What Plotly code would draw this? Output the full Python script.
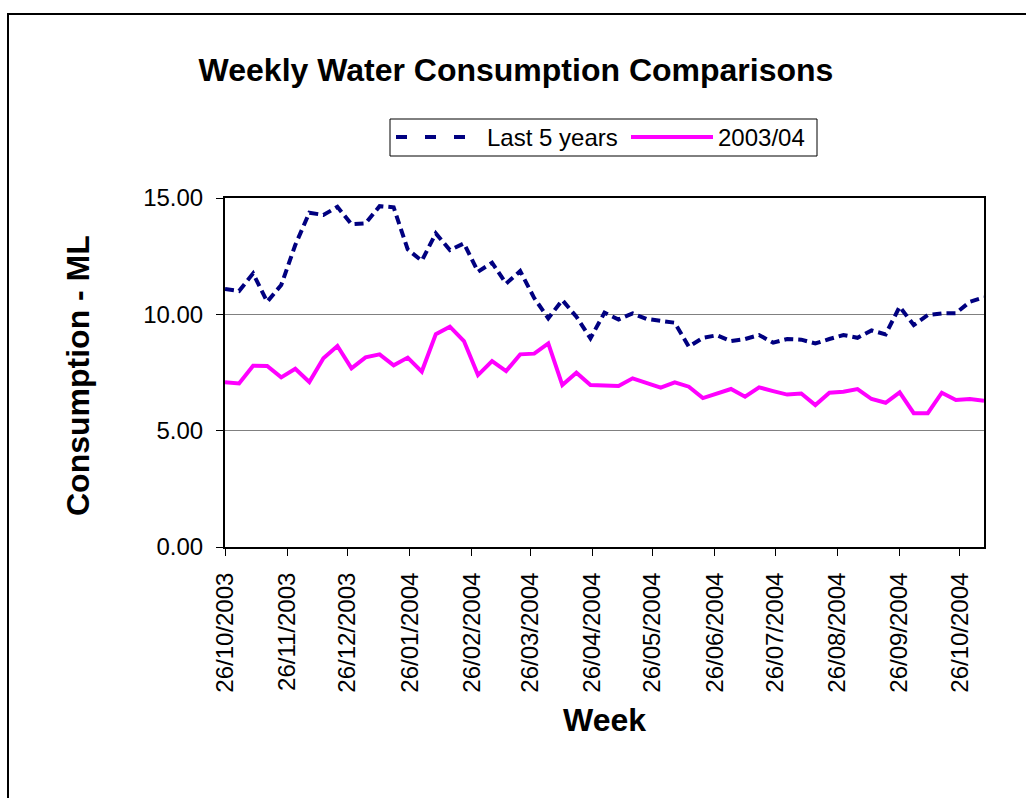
import pandas as pd
import plotly.graph_objects as go

# ---- data ----
start_date = "2003-10-26"
n_weeks = 55
weeks = pd.date_range(start_date, periods=n_weeks, freq="7D")

last5_years = [11.09, 11.00, 11.76, 10.54, 11.26, 12.98, 14.37, 14.27, 14.62, 13.87,
               13.91, 14.65, 14.60, 12.79, 12.30, 13.48, 12.76, 13.05, 11.83, 12.22,
               11.32, 11.86, 10.70, 9.83, 10.61, 9.90, 8.97, 10.07, 9.78, 10.04,
               9.80, 9.71, 9.64, 8.61, 8.99, 9.10, 8.85, 8.94, 9.11, 8.78,
               8.94, 8.91, 8.75, 8.94, 9.11, 8.99, 9.31, 9.14, 10.33, 9.54,
               9.97, 10.04, 10.05, 10.54, 10.73]

y2003_04 = [7.08, 7.03, 7.79, 7.78, 7.29, 7.66, 7.09, 8.11, 8.64, 7.68,
            8.15, 8.28, 7.81, 8.14, 7.54, 9.15, 9.47, 8.85, 7.39, 7.99,
            7.56, 8.28, 8.31, 8.75, 6.96, 7.49, 6.96, 6.96, 6.92, 7.25,
            7.03, 6.85, 7.08, 6.89, 6.40, 6.60, 6.79, 6.46, 6.86, 6.70,
            6.55, 6.60, 6.10, 6.63, 6.67, 6.79, 6.36, 6.20, 6.65, 5.75,
            5.75, 6.63, 6.32, 6.36, 6.29]

tick_dates = ["2003-10-26", "2003-11-26", "2003-12-26", "2004-01-26", "2004-02-26",
              "2004-03-26", "2004-04-26", "2004-05-26", "2004-06-26", "2004-07-26",
              "2004-08-26", "2004-09-26", "2004-10-26"]
y_ticks = [0, 5, 10, 15]

series_names = ["Last 5 years", "2003/04"]
NAVY = "#000080"
MAGENTA = "#FF00FF"
FONT = "Liberation Sans, Arial, sans-serif"

# ---- layout geometry (pixels) ----
W, H = 1026, 798
PL, PR, PT, PB = 225, 984, 198, 547


def px_x(p):
    return (p - PL) / (PR - PL)


def px_y(p):
    return (PB - p) / (PB - PT)


fig = go.Figure()
fig.add_trace(go.Scatter(x=weeks, y=last5_years, mode="lines", name=series_names[0],
                         line=dict(color=NAVY, width=4, dash="9px,5px"),
                         showlegend=False))
fig.add_trace(go.Scatter(x=weeks, y=y2003_04, mode="lines", name=series_names[1],
                         line=dict(color=MAGENTA, width=4),
                         showlegend=False))

fig.update_layout(
    width=W, height=H,
    margin=dict(l=PL, r=W - PR, t=PT, b=H - PB, pad=0),
    paper_bgcolor="white", plot_bgcolor="white",
    font=dict(family=FONT, size=24, color="black"),
    title=dict(text="<b>Weekly Water Consumption Comparisons</b>",
               font=dict(size=32, family=FONT, color="black"),
               xref="container", yref="container",
               x=516 / W, y=1 - 70 / H, xanchor="center", yanchor="middle"),
)

fig.update_xaxes(
    type="date",
    range=[weeks[0], weeks[-1]],
    tickvals=tick_dates,
    tickformat="%d/%m/%Y",
    tickangle=-90,
    ticks="outside", ticklen=7, tickwidth=1, tickcolor="black",
    showline=True, linewidth=2, linecolor="black", mirror=True,
    showgrid=False, zeroline=False,
    tickfont=dict(size=24, family=FONT),
    ticklabelstandoff=7,
)
fig.update_yaxes(
    range=[0, 15],
    tickvals=y_ticks,
    tickformat=".2f",
    ticks="outside", ticklen=7, tickwidth=1, tickcolor="black",
    showline=True, linewidth=2, linecolor="black", mirror=True,
    showgrid=True, gridcolor="#808080", gridwidth=1,
    zeroline=False,
    tickfont=dict(size=24, family=FONT),
    ticklabelstandoff=8,
)

# axis titles
fig.add_annotation(text="<b>Consumption - ML</b>", xref="paper", yref="paper",
                   x=px_x(78), y=px_y(376), showarrow=False, textangle=-90,
                   font=dict(size=32, family=FONT), xanchor="center", yanchor="middle")
fig.add_annotation(text="<b>Week</b>", xref="paper", yref="paper",
                   x=px_x(604), y=px_y(720), showarrow=False,
                   font=dict(size=32, family=FONT), xanchor="center", yanchor="middle")

# outer chart border (left and top visible)
fig.add_shape(type="rect", xref="paper", yref="paper",
              x0=px_x(8), x1=px_x(1100), y0=px_y(14), y1=px_y(900),
              line=dict(color="black", width=2), layer="below")

# legend (custom drawn)
fig.add_shape(type="rect", xref="paper", yref="paper",
              x0=px_x(390), x1=px_x(817), y0=px_y(119), y1=px_y(156),
              line=dict(color="black", width=1), fillcolor="white")
fig.add_shape(type="line", xref="paper", yref="paper",
              x0=px_x(396), x1=px_x(468), y0=px_y(137), y1=px_y(137),
              line=dict(color=NAVY, width=4, dash="11px,18px"))
fig.add_annotation(text=series_names[0], xref="paper", yref="paper",
                   x=px_x(485), y=px_y(138), showarrow=False,
                   font=dict(size=24, family=FONT), xanchor="left", yanchor="middle")
fig.add_shape(type="line", xref="paper", yref="paper",
              x0=px_x(631), x1=px_x(713), y0=px_y(137), y1=px_y(137),
              line=dict(color=MAGENTA, width=4))
fig.add_annotation(text=series_names[1], xref="paper", yref="paper",
                   x=px_x(716), y=px_y(138), showarrow=False,
                   font=dict(size=24, family=FONT), xanchor="left", yanchor="middle")

fig.write_html("out.html", config={"displayModeBar": False},
               post_script="document.body.style.margin='0';")
